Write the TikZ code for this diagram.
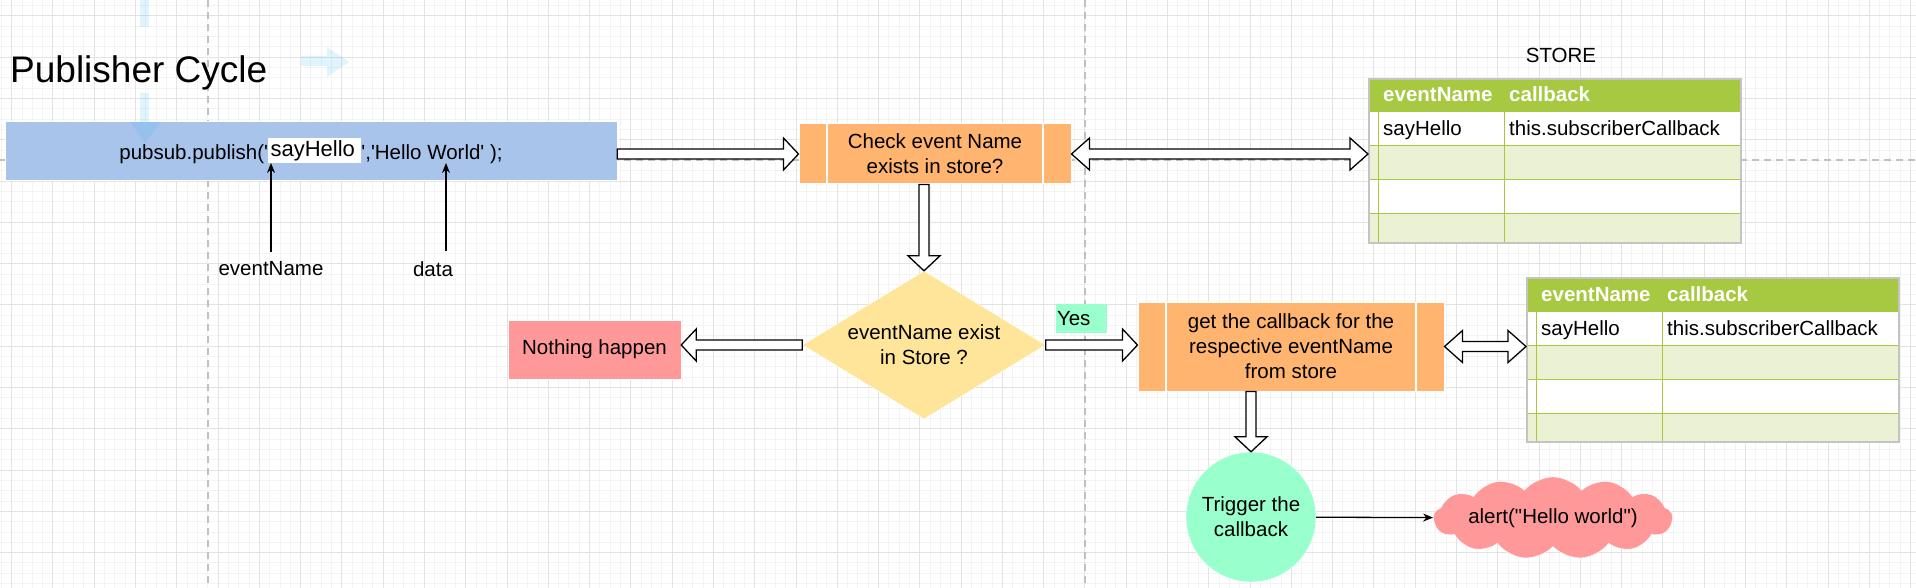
\documentclass[tikz,border=0pt]{standalone}
\usepackage{fontspec}
\newfontfamily\diafont{Liberation Sans}
\usetikzlibrary{arrows.meta,calc,shapes.geometric,shapes.symbols}
\definecolor{PubBlue}{HTML}{A9C4EB}
\definecolor{StepOrange}{HTML}{FFB570}
\definecolor{AskYellow}{HTML}{FFE599}
\definecolor{StopRed}{HTML}{FF9999}
\definecolor{GoMint}{HTML}{99FFCC}
\definecolor{TabGreen}{HTML}{A7C942}
\definecolor{TabStripe}{HTML}{EAF2D3}
\definecolor{TabFrame}{HTML}{C4C4C4}
\definecolor{GridMajor}{HTML}{E3E3E3}
\definecolor{GridMinor}{HTML}{F3F3F3}
\definecolor{PageBreak}{HTML}{C0C0C0}
\definecolor{HintBlue}{HTML}{29B6F2}

\tikzset{
    storetab/.pic={
        \fill[white] (0,0) rectangle (372,164);
        \foreach \ry/\rh in {68/34,136/28}
            \fill[TabStripe] (0,\ry) rectangle ++(372,\rh);
        \fill[TabGreen] (0,0) rectangle (372,34);
        \foreach \y in {34,68,102,136}
            \draw[TabGreen, line width=1pt] (0,\y) -- (372,\y);
        \foreach \x in {10,136}
            \draw[TabGreen, line width=1pt] (\x,0) -- (\x,164);
        \node[tabhead] (-key) at (15,24) {eventName};
        \node[tabhead] (-val) at (141,24) {callback};
        \node[tabcell] (-name) at (15,58) {sayHello};
        \node[tabcell] (-cb) at (141,58) {this.subscriberCallback};
        \node[draw=TabFrame, line width=2pt, minimum width=372pt,
              minimum height=164pt, inner sep=0pt, anchor=north west]
            (-frame) at (0,0) {};
    }
}

\begin{document}
\begin{tikzpicture}[
    x=1pt, y=-1pt,
    font=\diafont\fontsize{20.5}{25}\selectfont,
    grid minor/.style={draw=GridMinor, line width=1pt},
    grid major/.style={draw=GridMajor, line width=1pt},
    page break/.style={draw=PageBreak, line width=2pt,
                       dash pattern=on 7pt off 5pt},
    hint/.style={fill=HintBlue, fill opacity=0.15},
    pubbox/.style={rectangle, fill=PubBlue, draw=white,
                   minimum width=612pt, minimum height=59pt},
    process/.style={rectangle, fill=StepOrange, draw=white, line width=1pt,
        align=center,
        path picture={\draw[white, line width=1.5pt]
            ([xshift=28pt]path picture bounding box.north west) --
            ([xshift=28pt]path picture bounding box.south west)
            ([xshift=-28pt]path picture bounding box.north east) --
            ([xshift=-28pt]path picture bounding box.south east);}},
    decision/.style={diamond, fill=AskYellow, draw=white, align=center,
                     minimum width=243pt, minimum height=148pt,
                     inner sep=0pt, aspect=1.64},
    stopbox/.style={rectangle, fill=StopRed, draw=white,
                    minimum width=173pt, minimum height=59pt},
    yesflag/.style={rectangle, fill=GoMint, minimum height=29pt,
                    text width=49pt, inner xsep=1pt, align=left},
    trigger/.style={circle, fill=GoMint, draw=white, minimum size=130pt,
                    inner sep=0pt, align=center},
    result/.style={cloud, cloud puffs=13, cloud puff arc=100, aspect=4.2,
                   fill=StopRed, draw=white, minimum width=226pt,
                   minimum height=46pt, inner sep=0pt},
    note/.style={inner sep=2pt},
    tabhead/.style={anchor=base west, inner sep=0pt, text=white,
                    font=\diafont\bfseries\fontsize{20.5}{25}\selectfont},
    tabcell/.style={anchor=base west, inner sep=0pt},
    pointer/.style={draw=black, line width=1.3pt,
                    -{Stealth[length=10pt,width=8pt]}},
    flow/.style={draw=black, fill=white, line width=1.3pt, line join=miter,
        to path={let \p1=(\tikztostart), \p2=(\tikztotarget),
                     \p3=($(\p2)!15pt!(\p1)$) in
            ($(\p1)!5pt!90:(\p2)$) -- ($(\p3)!5pt!90:(\p2)$)
            -- ($(\p3)!16pt!90:(\p2)$) -- (\p2)
            -- ($(\p3)!16pt!-90:(\p2)$) -- ($(\p3)!5pt!-90:(\p2)$)
            -- ($(\p1)!5pt!-90:(\p2)$) -- cycle}},
    flow both/.style={draw=black, fill=white, line width=1.3pt,
        line join=miter,
        to path={let \p1=(\tikztostart), \p2=(\tikztotarget),
                     \p3=($(\p2)!18pt!(\p1)$), \p4=($(\p1)!18pt!(\p2)$) in
            (\p1) -- ($(\p4)!16pt!90:(\p2)$) -- ($(\p4)!5pt!90:(\p2)$)
            -- ($(\p3)!5pt!90:(\p2)$) -- ($(\p3)!16pt!90:(\p2)$) -- (\p2)
            -- ($(\p3)!16pt!-90:(\p2)$) -- ($(\p3)!5pt!-90:(\p2)$)
            -- ($(\p4)!5pt!-90:(\p2)$) -- ($(\p4)!16pt!-90:(\p2)$)
            -- cycle}}
]
    \useasboundingbox (0,0) rectangle (1916,588);
    \fill[white] (0,0) rectangle (1916,588);

    % editor grid and page breaks
    \foreach \i in {0,...,186}
        \draw[grid minor] ({1.38+10.32*\i},0) -- ++(0,588);
    \foreach \j in {0,...,57}
        \draw[grid minor] (0,{5.68+10.32*\j}) -- ++(1916,0);
    \foreach \i in {0,...,46}
        \draw[grid major] ({11.7+41.28*\i},0) -- ++(0,588);
    \foreach \j in {0,...,14}
        \draw[grid major] (0,{16+41.28*\j}) -- ++(1916,0);
    \foreach \x in {208,1085}
        \draw[page break] (\x,0) -- (\x,588);
    \draw[page break] (0,160.5) -- (1916,160.5);

    \node[anchor=base west, inner sep=0pt,
          font=\diafont\fontsize{37}{40}\selectfont] (title) at (10,83)
        {Publisher Cycle};

    % publish call
    \node[pubbox] (pub) at (311,150.5)
        {pubsub.publish('{\setlength{\fboxsep}{2.5pt}\raisebox{3pt}{\colorbox{white}{\fontsize{22}{22}\selectfont sayHello\hspace{4pt}}}}','Hello World' );};
    \node[note] (evname) at (271,269) {eventName};
    \node[note] (datalbl) at (433,269) {data};
    \coordinate (evtip) at (271,163);
    \coordinate (datatip) at (446,163);
    \draw[pointer] ([yshift=8pt]evname.north) -- (evtip);
    \draw[pointer] ([yshift=8pt]datalbl.north -| datatip) -- (datatip);

    % lookup in the store
    \node[process, minimum width=272pt, minimum height=60pt] (check)
        at (935,154) {Check event Name\\exists in store?};
    \node[anchor=base] (storetitle) at (1561,63) {STORE};
    \pic (st1) at (1368,78) {storetab};

    \node[decision] (ask) at (924,345) {eventName exist\\in Store ?};
    \node[stopbox] (nothing) at (594.5,349.5) {Nothing happen};
    \node[yesflag] (yes) at (1081.5,318.5) {Yes};
    \node[process, minimum width=306pt, minimum height=89pt] (getcb)
        at (1291,346.5)
        {get the callback for the\\respective eventName\\from store};
    \pic (st2) at (1526,277) {storetab};

    \node[trigger] (trigger) at (1251,517) {Trigger the\\callback};
    \node[result] (alert) at (1553,518) {alert("Hello world")};

    % block arrows
    \draw[flow] (pub.east |- check.west) to (check.west);
    \draw[flow both] (check.east) to (st1-frame.west |- check.east);
    \draw[flow] (check.south -| ask.north) to (ask.north);
    \draw[flow] (ask.west) to (nothing.east |- ask.west);
    \draw[flow] (ask.east) to (getcb.west |- ask.east);
    \draw[flow both] (getcb.east) to (st2-frame.west |- getcb.east);
    \draw[flow] (trigger.north |- getcb.south) to (trigger.north);
    \draw[pointer] (trigger) -- (alert);

    % faint hover hints of the editor
    \fill[hint] (140,0) rectangle (149,27);
    \fill[hint] (140,93) -- (149,93) -- (149,122) -- (161,122) -- (145,143)
        -- (130,122) -- (140,122) -- cycle;
    \fill[hint] (301,56) -- (327,56) -- (327,47) -- (349,62) -- (327,77)
        -- (327,66) -- (301,66) -- cycle;
\end{tikzpicture}
\end{document}
